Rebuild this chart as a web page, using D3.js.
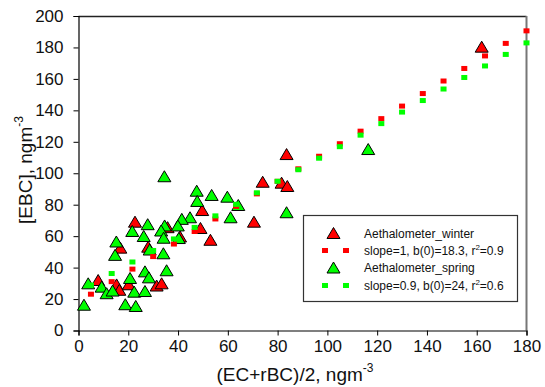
<!DOCTYPE html>
<html>
<head>
<meta charset="utf-8">
<script src="https://cdn.jsdelivr.net/npm/d3@7"></script>
<style>
  body { margin: 0; background: #fff; }
  text { font-family: "Liberation Sans", Arial, sans-serif; }
</style>
</head>
<body>
<div id="chart"></div>
<script>
// winter points (x = (EC+rBC)/2, y = EBC)
var winterX = [7.9, 15.3, 16.4, 20.2, 31.4, 33.4, 16.8, 28.0, 22.7, 35.8, 40.8, 49.0, 53.0, 49.7, 70.5, 74.0, 81.6, 83.9, 83.6, 162.0];
var winterY = [32.1, 29.3, 25.9, 29.4, 28.6, 30.0, 52.7, 53.3, 69.2, 65.7, 59.8, 65.2, 57.7, 76.6, 69.2, 94.6, 94.0, 91.9, 112.2, 180.5];

// spring points
var springX = [34.5, 47.5, 53.5, 47.7, 59.8, 64.2, 61.1, 44.8, 41.5, 39.9, 34.6, 33.2, 34.2, 40.3, 27.8, 21.6, 26.2, 15.2, 14.7, 28.6,
  34.1, 35.4, 26.7, 28.3, 20.7, 22.4, 26.7, 3.9, 9.3, 11.3, 13.7, 2.2, 18.8, 23.0, 83.6, 116.4];
var springY = [98.1, 88.9, 86.2, 82.4, 85.1, 79.8, 72.0, 72.0, 71.0, 66.8, 66.8, 63.6, 59.0, 58.8, 67.6, 63.3, 60.1, 56.6, 48.1, 51.5,
  49.1, 38.3, 37.6, 33.8, 33.4, 24.7, 25.1, 30.0, 27.9, 23.7, 25.4, 16.4, 16.7, 15.6, 75.2, 115.4];

// regression lines as drawn: [slope, intercept], x range
var winterFit = [0.957, 18.3];
var springFit = [0.88, 24.5];
var fitRange = [5, 180];
var fitDots = 22;

var xTicks = [0, 20, 40, 60, 80, 100, 120, 140, 160, 180];
var yTicks = [0, 20, 40, 60, 80, 100, 120, 140, 160, 180, 200];
var legendLabels = ["Aethalometer_winter", "slope=1, b(0)=18.3, r", "Aethalometer_spring", "slope=0.9, b(0)=24, r"];
var legendR2 = ["0.9", "0.6"];

var red = "#ff0000", green = "#00ff00";

var margin = { top: 16, right: 18.5, bottom: 56.5, left: 78.5 };
var width = 545 - margin.left - margin.right;
var height = 387 - margin.top - margin.bottom;

var svg = d3.select("#chart")
  .append("svg")
  .attr("width", 545)
  .attr("height", 387);

var g = svg.append("g")
  .attr("transform", "translate(" + margin.left + "," + margin.top + ")");

var x = d3.scaleLinear().domain([0, 180]).range([0, width]);
var y = d3.scaleLinear().domain([0, 200]).range([height, 0]);

// frame top / right
g.append("line")
  .attr("x1", 0).attr("x2", width).attr("y1", 0.5).attr("y2", 0.5)
  .attr("stroke", "#222").attr("stroke-width", 1.5);
g.append("line")
  .attr("x1", width).attr("x2", width).attr("y1", 0).attr("y2", height)
  .attr("stroke", "#777").attr("stroke-width", 2);

var xAxis = g.append("g")
  .attr("transform", "translate(0," + height + ")")
  .call(d3.axisBottom(x).tickValues(xTicks).tickSizeOuter(0).tickSize(5).tickPadding(4.5));
var yAxis = g.append("g")
  .call(d3.axisLeft(y).tickValues(yTicks).tickSizeOuter(0).tickSize(5).tickPadding(10));

[xAxis, yAxis].forEach(function (a) {
  a.selectAll("text").attr("font-size", 17).attr("fill", "#111")
    .attr("font-family", "Liberation Sans, Arial, sans-serif");
  a.selectAll("line").attr("stroke", "#000");
  a.select(".domain").attr("stroke", "#000").attr("stroke-width", 1.2);
});

// triangle marker
function tri(w, h) {
  return "M0," + (-h / 2) + "L" + (w / 2) + "," + (h / 2) + "L" + (-w / 2) + "," + (h / 2) + "Z";
}

function drawPoints(xs, ys, color) {
  g.append("g").selectAll("path")
    .data(xs.map(function (d, i) { return [d, ys[i]]; }))
    .enter()
    .append("path")
    .attr("d", tri(13, 11))
    .attr("transform", function (d) { return "translate(" + x(d[0]) + "," + y(d[1]) + ")"; })
    .attr("fill", color)
    .attr("stroke", "#000")
    .attr("stroke-width", 1);
}

function drawFit(fit, color) {
  var step = (fitRange[1] - fitRange[0]) / (fitDots - 1);
  var xs = d3.range(fitDots).map(function (i) { return fitRange[0] + i * step; });
  g.append("g").selectAll("rect")
    .data(xs)
    .enter()
    .append("rect")
    .attr("x", function (d) { return x(d) - 3; })
    .attr("y", function (d) { return y(fit[0] * d + fit[1]) - 2.5; })
    .attr("width", 6)
    .attr("height", 5)
    .attr("fill", color);
}

drawPoints(winterX, winterY, red);
drawPoints(springX, springY, green);
drawFit(winterFit, red);
drawFit(springFit, green);

// axis titles
var xt = svg.append("text")
  .attr("x", 295).attr("y", 381)
  .attr("text-anchor", "middle")
  .attr("font-size", 19).attr("fill", "#111");
xt.append("tspan").text("(EC+rBC)/2, ngm");
xt.append("tspan").attr("font-size", 12).attr("dy", -9).text("-3");

var yt = svg.append("text")
  .attr("transform", "translate(32,170) rotate(-90)")
  .attr("text-anchor", "middle")
  .attr("font-size", 19).attr("fill", "#111");
yt.append("tspan").text("[EBC], ngm");
yt.append("tspan").attr("font-size", 12).attr("dy", -9).text("-3");

// legend
var lg = svg.append("g").attr("transform", "translate(303.5,215.5)");
lg.append("rect")
  .attr("width", 214).attr("height", 86)
  .attr("fill", "#fff").attr("stroke", "#333").attr("stroke-width", 1.2);

var rowY = [17.5, 35, 52, 70];
var rowColor = [red, red, green, green];
legendLabels.forEach(function (lab, i) {
  if (i % 2 === 0) {
    lg.append("path").attr("d", tri(13, 11))
      .attr("transform", "translate(30," + rowY[i] + ")")
      .attr("fill", rowColor[i]).attr("stroke", "#000");
  } else {
    [21.5, 42.5].forEach(function (sx) {
      lg.append("rect").attr("x", sx - 3).attr("y", rowY[i] - 2.5)
        .attr("width", 6).attr("height", 5).attr("fill", rowColor[i]);
    });
  }
  var t = lg.append("text").attr("x", 60.5).attr("y", rowY[i] + 4.5)
    .attr("font-size", 12).attr("fill", "#111");
  t.append("tspan").text(lab);
  if (i % 2 === 1) {
    t.append("tspan").attr("font-size", 8).attr("dy", -5).text("2");
    t.append("tspan").attr("dy", 5).text("=" + legendR2[(i - 1) / 2]);
  }
});
</script>
</body>
</html>
